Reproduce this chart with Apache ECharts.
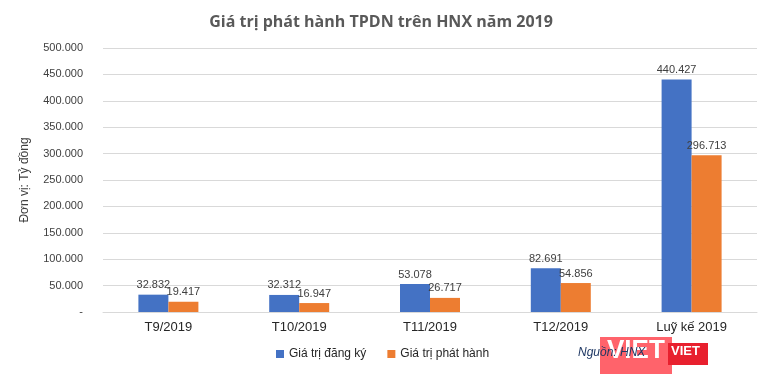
<!DOCTYPE html>
<html><head><meta charset="utf-8">
<script src="https://cdn.jsdelivr.net/npm/echarts@6/dist/echarts.min.js"></script>
<style>html,body{margin:0;padding:0;background:#fff}#c{width:762px;height:374px}</style>
</head><body><div id="c"></div>
<script>
const categories = ['T9/2019','T10/2019','T11/2019','T12/2019','Luỹ kế 2019'];
const dangKy = [32832, 32312, 53078, 82691, 440427];
const phatHanh = [19417, 16947, 26717, 54856, 296713];
const seriesNames = ['Giá trị đăng ký','Giá trị phát hành'];

function fmt(v){
  if (v === 0) return '-';
  return String(v).replace(/\B(?=(\d{3})+(?!\d))/g, '.');
}
const chart = echarts.init(document.getElementById('c'));
const lbl = {show:true, position:'top', distance:4, color:'#404040', fontSize:11, fontFamily:'Liberation Sans, Arial', formatter:p=>fmt(p.value)};
chart.setOption({
  animation:false,
  title:{text:'Giá trị phát hành TPDN trên HNX năm 2019', left:'center', top:9,
    textStyle:{fontSize:16, fontWeight:'bold', color:'#595959', fontFamily:'Open Sans, Noto Sans, sans-serif'}},
  grid:{left:103, right:5, top:48, bottom:62},
  legend:{bottom:9, left:271, itemWidth:8, itemHeight:8, itemGap:21, icon:'rect',
    textStyle:{fontSize:12, color:'#262626', fontFamily:'Liberation Sans, Arial'}, data:seriesNames},
  xAxis:{type:'category', data:categories,
    axisLine:{lineStyle:{color:'#d9d9d9'}}, axisTick:{show:false},
    axisLabel:{fontSize:13, color:'#262626', margin:9, fontFamily:'Liberation Sans, Arial'}},
  yAxis:{type:'value', min:0, max:500000, interval:50000,
    name:'Đơn vị: Tỷ đồng', nameLocation:'middle', nameGap:72, nameRotate:90,
    nameTextStyle:{fontSize:12, color:'#404040', fontFamily:'Liberation Sans, Arial'},
    axisLine:{show:false}, axisTick:{show:false},
    splitLine:{lineStyle:{color:'#d9d9d9'}},
    axisLabel:{fontSize:11, color:'#404040', margin:20, fontFamily:'Liberation Sans, Arial', formatter:fmt}},
  series:[
    {name:seriesNames[0], type:'bar', data:dangKy, barWidth:30, barGap:'0%', itemStyle:{color:'#4472c4'}, label:lbl},
    {name:seriesNames[1], type:'bar', data:phatHanh, barWidth:30, barGap:'0%', itemStyle:{color:'#ed7d31'}, label:lbl}
  ],
  graphic:[
    {type:'rect', left:600, top:337, shape:{width:72, height:37}, style:{fill:'rgba(255,60,70,0.8)'}, z:10},
    {type:'text', left:607, top:338, style:{text:'VIET', fill:'#fff', fontSize:26, fontWeight:'bold', fontFamily:'Liberation Sans, Arial'}, z:11},
    {type:'rect', left:668, top:343, shape:{width:40, height:22}, style:{fill:'#e8202e'}, z:10},
    {type:'text', left:671, top:345, style:{text:'VIET', fill:'#fff', fontSize:13, fontWeight:'bold', fontFamily:'Liberation Sans, Arial'}, z:11},
    {type:'text', left:578, top:347, style:{text:'Nguồn: HNX', fill:'#1f3864', fontSize:12, fontStyle:'italic', fontFamily:'Liberation Sans, Arial'}, z:12}
  ]
});
</script></body></html>
